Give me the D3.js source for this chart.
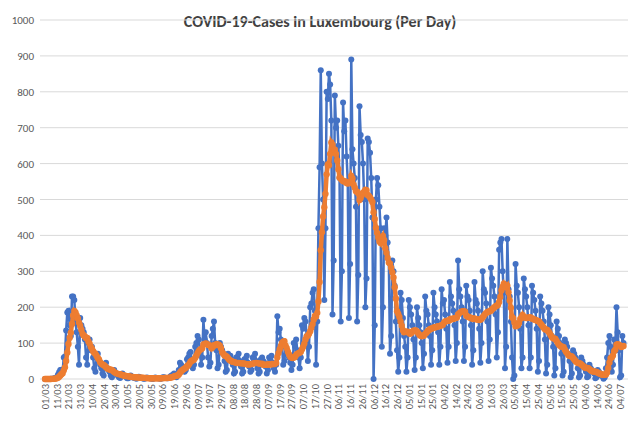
<!DOCTYPE html>
<html><head><meta charset="utf-8">
<script src="https://cdn.jsdelivr.net/npm/d3@7"></script>
<style>body{margin:0;background:#fff;font-family:Calibri,Carlito,"Liberation Sans",Arial,sans-serif}</style>
</head><body><svg id="chart" width="640" height="425"></svg>
<script>
// daily cases, one row per week (Sunday..Saturday), starting 01/03/2020
const dailyCases = [
  0,0,0,0,0,1,1, 1,2,3,5,12,19,25, 26,22,60,63,135,185,190, 150,120,230,230,220,160,130,
  90,40,170,150,140,130,110, 60,40,100,110,80,90,60, 30,20,60,70,50,40,30, 15,10,40,45,30,25,20,
  10,5,20,25,15,15,10, 5,3,12,15,10,8,6, 2,2,8,10,5,5,3, 2,1,5,6,4,3,2,
  1,1,3,4,3,2,2, 1,0,3,4,3,2,2, 1,1,4,5,4,3,2, 2,3,8,10,12,15,10,
  5,10,25,45,40,35,30, 20,25,55,60,70,75,50, 30,40,90,100,120,110,80, 40,60,165,110,130,100,60,
  35,45,120,140,160,100,80, 30,40,100,90,80,70,50, 20,25,70,60,65,55,40, 15,20,60,55,70,50,35,
  15,20,55,50,65,45,35, 20,25,60,55,70,50,30, 15,20,55,60,50,45,35, 15,25,60,50,65,45,30,
  20,40,175,130,140,110,90, 40,50,90,80,70,60,45, 25,40,100,90,110,80,60, 30,60,150,140,170,160,120,
  50,90,200,210,240,250,190, 40,160,420,590,860,600,500, 220,420,800,780,850,820,720, 180,330,790,700,720,650,560,
  160,300,770,690,720,620,550, 170,320,890,640,600,560,480, 160,290,760,680,660,600,500, 200,280,670,660,630,560,450,
  0,150,500,560,540,480,420, 90,200,420,400,450,380,330, 70,120,330,300,260,160,80, 20,60,240,220,170,120,90,
  20,60,220,200,180,150,110, 25,60,200,170,150,130,100, 30,70,230,190,180,150,120, 40,80,240,200,180,160,130,
  40,90,250,210,220,180,140, 45,90,270,230,210,190,150, 50,100,330,250,230,200,160, 50,90,260,230,220,190,150,
  40,80,270,220,210,190,140, 45,100,300,250,240,210,160, 50,110,310,280,260,230,180, 60,130,360,380,390,300,240,
  30,90,390,250,230,160,60, 0,10,320,260,240,200,140, 30,60,280,250,230,200,150, 30,60,260,240,220,190,140,
  20,50,230,210,190,160,110, 15,40,200,180,150,120,90, 10,30,160,140,120,100,70, 10,20,110,100,90,70,50,
  5,15,80,70,60,50,30, 5,10,60,50,40,30,20, 5,8,40,30,25,20,15, 2,5,25,20,15,10,8,
  1,5,30,60,100,120,90, 20,40,110,90,200,130,80, 5,10,120,100
];
const startDate = new Date(2020, 2, 1);
const yTicks = [0,100,200,300,400,500,600,700,800,900,1000];

const dates = dailyCases.map((_, i) => d3.timeDay.offset(startDate, i));
// 7-day average of the daily series
const avg7 = dailyCases.map((_, i) => d3.mean(dailyCases.slice(Math.max(0, i - 6), i + 1)));

const svg = d3.select("#chart");
const x = d3.scaleLinear().domain([0, 490]).range([45, 620]);
const y = d3.scaleLinear().domain([0, 1000]).range([379, 20]);

svg.append("text").attr("x", 320).attr("y", 27).attr("text-anchor", "middle")
  .style("font-size", "16px").style("font-weight", "bold").style("fill", "#404040")
  .text("COVID-19-Cases in Luxembourg (Per Day)");

// gridlines
svg.append("g").selectAll("line").data(yTicks).enter().append("line")
  .attr("x1", 40).attr("x2", 628).attr("y1", d => y(d)).attr("y2", d => y(d))
  .attr("stroke", "#d9d9d9").attr("stroke-width", 1);
svg.append("g").selectAll("text").data(yTicks).enter().append("text")
  .attr("x", 34).attr("y", d => y(d) + 4).attr("text-anchor", "end")
  .style("font-size", "11px").style("fill", "#595959").text(d => d);

// x labels every 10 days
const fmt = d3.timeFormat("%d/%m");
const labelIdx = d3.range(0, 491, 10);
svg.append("g").selectAll("text").data(labelIdx).enter().append("text")
  .attr("transform", d => `translate(${x(d) + 4},384) rotate(-90)`)
  .attr("text-anchor", "end").style("font-size", "10.5px").style("fill", "#595959")
  .text(d => fmt(dates[d]));

const line = d3.line().x((d, i) => x(i)).y(d => y(d));

svg.append("path").datum(dailyCases).attr("d", line)
  .attr("fill", "none").attr("stroke", "#4472C4").attr("stroke-width", 2.5);
svg.append("g").selectAll("circle").data(dailyCases).enter().append("circle")
  .attr("cx", (d, i) => x(i)).attr("cy", d => y(d)).attr("r", 3).attr("fill", "#4472C4");

svg.append("path").datum(avg7).attr("d", line)
  .attr("fill", "none").attr("stroke", "#ED7D31").attr("stroke-width", 4.5);
svg.append("g").selectAll("circle").data(avg7).enter().append("circle")
  .attr("cx", (d, i) => x(i)).attr("cy", d => y(d)).attr("r", 3.2).attr("fill", "#ED7D31");
</script></body></html>
